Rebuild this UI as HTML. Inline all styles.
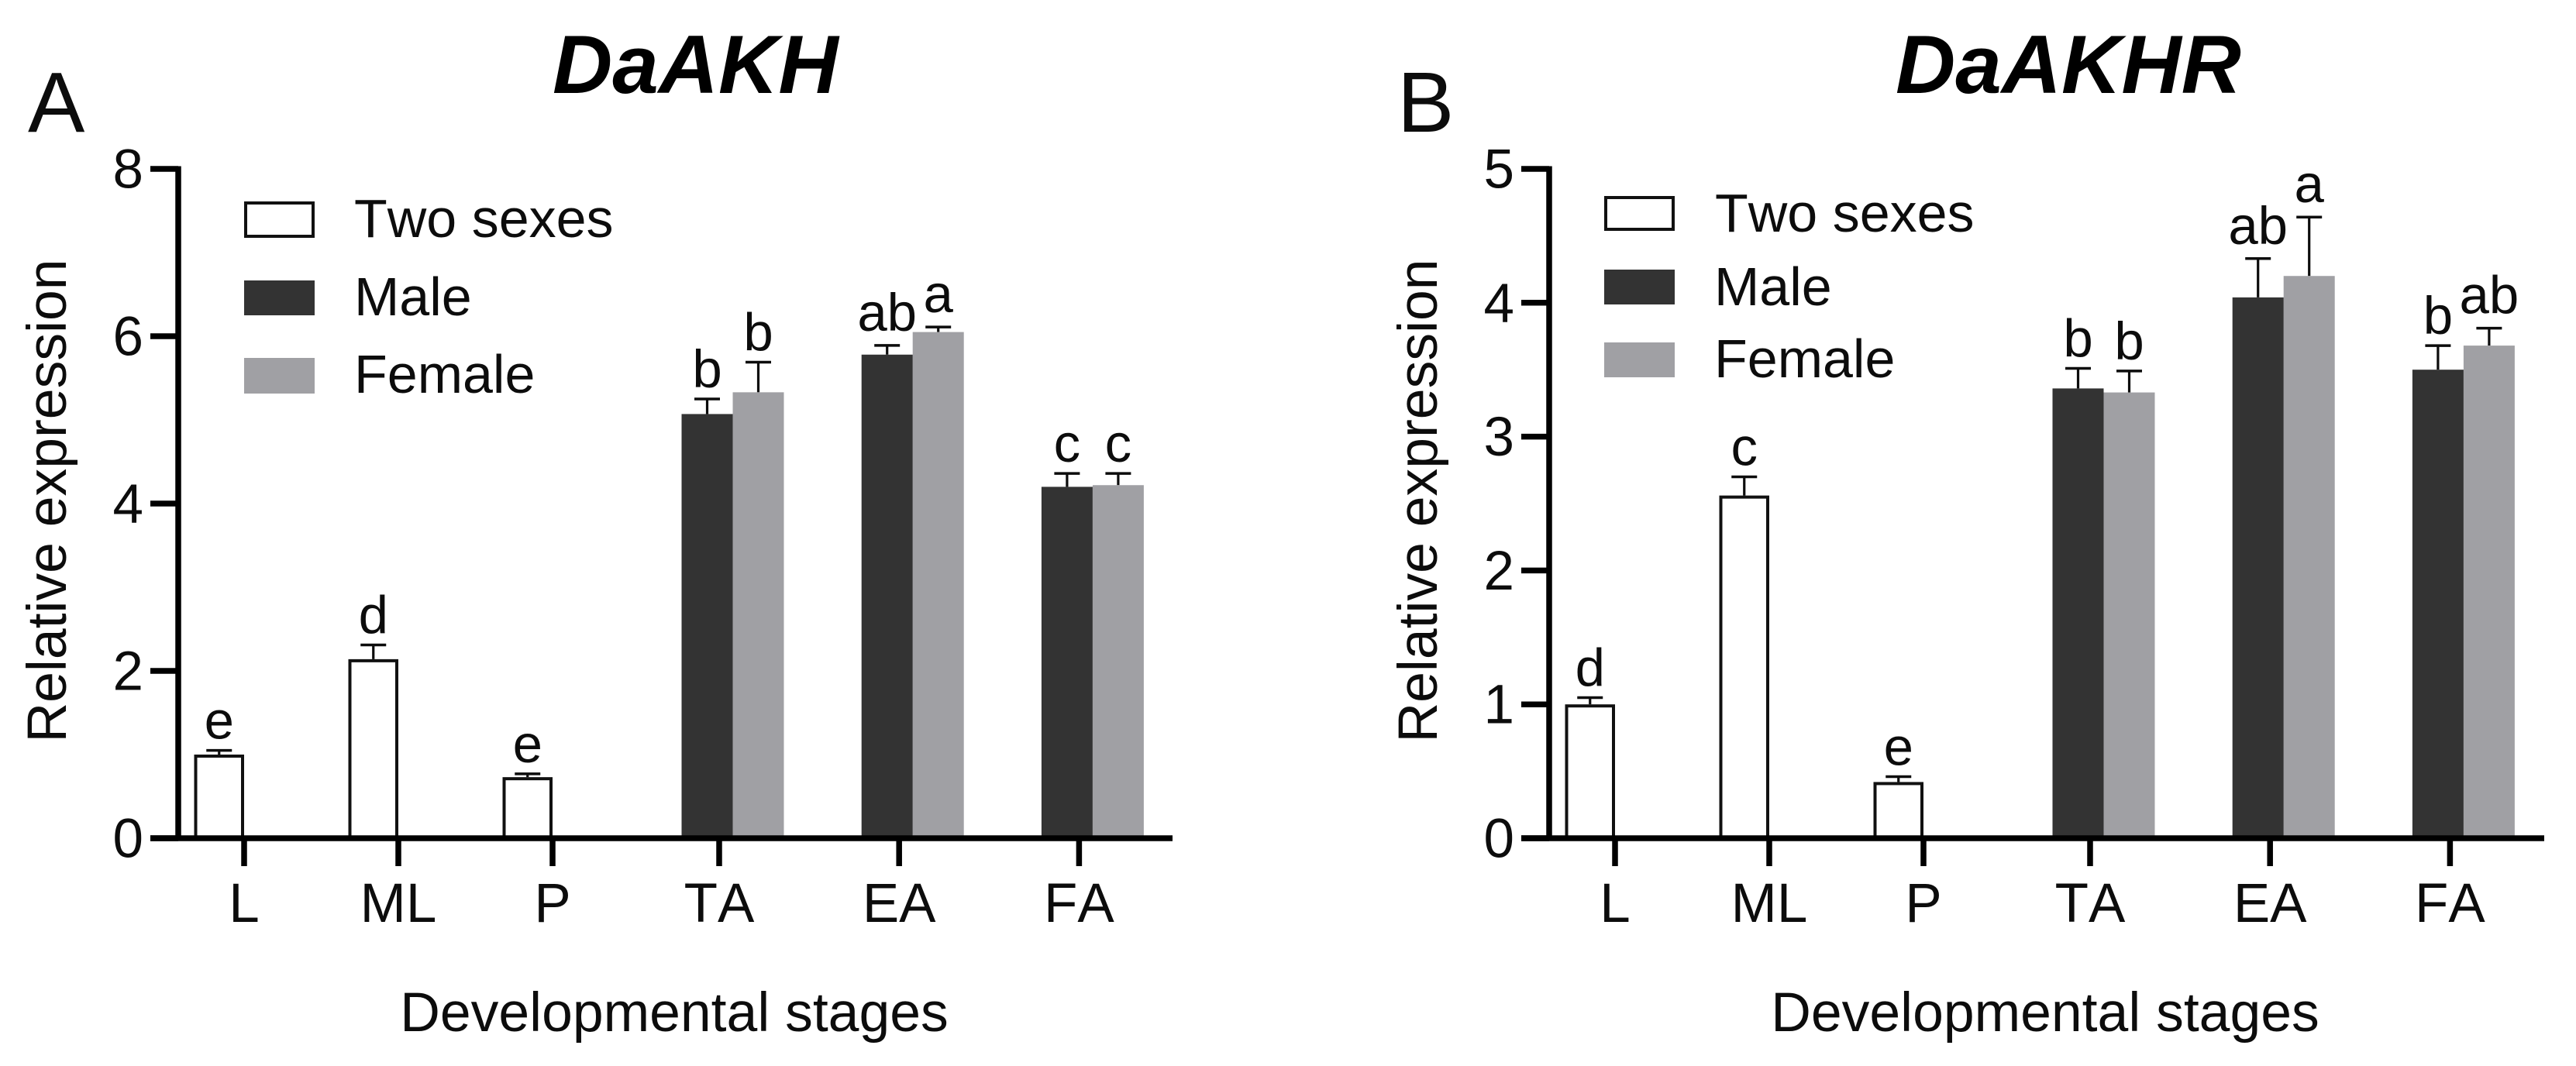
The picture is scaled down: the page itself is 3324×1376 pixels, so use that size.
<!DOCTYPE html>
<html lang="en">
<head>
<meta charset="utf-8">
<title>DaAKH and DaAKHR relative expression</title>
<style>
  html, body { margin: 0; padding: 0; background: #fff; width: 3324px; height: 1376px; overflow: hidden; }
  svg { display: block; }
  text { font-family: "Liberation Sans", Arial, sans-serif; fill: #0c0c0c; font-kerning: none; }
  .title { font-size: 107px; font-weight: bold; font-style: italic; fill: #000; font-kerning: normal; }
  .panel { font-size: 110px; }
  .axis-title { font-size: 71.5px; }
  .legend { font-size: 70px; }
  .tick { font-size: 71px; }
  .sig { font-size: 69px; }
</style>
</head>
<body>
<svg id="figure" xmlns="http://www.w3.org/2000/svg" width="3324" height="1376" viewBox="0 0 3324 1376">
  <rect x="0" y="0" width="3324" height="1376" fill="#ffffff"/>

  <g id="panel-a">
    <text class="panel" x="36" y="170">A</text>
    <text class="title" x="713" y="120">DaAKH</text>
    <text class="axis-title" transform="translate(85 646.5) rotate(-90)" text-anchor="middle">Relative expression</text>
    <text class="axis-title" x="870" y="1331" text-anchor="middle">Developmental stages</text>
    <g>
      <rect x="317" y="262" width="87" height="43" fill="#fff" stroke="#111" stroke-width="4"/>
      <text class="legend" x="457" y="306">Two sexes</text>
      <rect x="315" y="362" width="91" height="45" fill="#333333"/>
      <text class="legend" x="457" y="407">Male</text>
      <rect x="315" y="462" width="91" height="46" fill="#a0a0a4"/>
      <text class="legend" x="457" y="507">Female</text>
    </g>
  </g>

  <g id="panel-b">
    <text class="panel" x="1803" y="170">B</text>
    <text class="title" x="2446" y="120">DaAKHR</text>
    <text class="axis-title" transform="translate(1854 646.5) rotate(-90)" text-anchor="middle">Relative expression</text>
    <text class="axis-title" x="2639" y="1331" text-anchor="middle">Developmental stages</text>
    <g>
      <rect x="2072" y="255" width="87" height="41" fill="#fff" stroke="#111" stroke-width="4"/>
      <text class="legend" x="2213" y="299">Two sexes</text>
      <rect x="2070" y="348" width="91" height="45" fill="#333333"/>
      <text class="legend" x="2212" y="394">Male</text>
      <rect x="2070" y="442" width="91" height="45" fill="#a0a0a4"/>
      <text class="legend" x="2212" y="487">Female</text>
    </g>
  </g>
</svg>

<script>
// Shared categories
const categories = ['L', 'ML', 'P', 'TA', 'EA', 'FA'];

// Panel A: DaAKH
const akhTicks = [0, 2, 4, 6, 8];
const akhTwoSexes = [1.00, 2.14, 0.73, null, null, null];
const akhTwoSexesErr = [0.05, 0.17, 0.04, null, null, null];
const akhMale = [null, null, null, 5.07, 5.78, 4.20];
const akhMaleErr = [null, null, null, 0.18, 0.11, 0.16];
const akhFemale = [null, null, null, 5.33, 6.05, 4.22];
const akhFemaleErr = [null, null, null, 0.36, 0.06, 0.14];
const akhTwoSexesSig = ['e', 'd', 'e', null, null, null];
const akhMaleSig = [null, null, null, 'b', 'ab', 'c'];
const akhFemaleSig = [null, null, null, 'b', 'a', 'c'];

// Panel B: DaAKHR
const akhrTicks = [0, 1, 2, 3, 4, 5];
const akhrTwoSexes = [1.00, 2.56, 0.42, null, null, null];
const akhrTwoSexesErr = [0.05, 0.14, 0.04, null, null, null];
const akhrMale = [null, null, null, 3.36, 4.04, 3.50];
const akhrMaleErr = [null, null, null, 0.15, 0.29, 0.18];
const akhrFemale = [null, null, null, 3.33, 4.20, 3.68];
const akhrFemaleErr = [null, null, null, 0.16, 0.44, 0.13];
const akhrTwoSexesSig = ['d', 'c', 'e', null, null, null];
const akhrMaleSig = [null, null, null, 'b', 'ab', 'b'];
const akhrFemaleSig = [null, null, null, 'b', 'a', 'ab'];

const NS = 'http://www.w3.org/2000/svg';
function mk(parent, tag, attrs, content) {
  const el = document.createElementNS(NS, tag);
  for (const k in attrs) el.setAttribute(k, attrs[k]);
  if (content !== undefined) el.textContent = content;
  parent.appendChild(el);
  return el;
}

function drawPanel(cfg) {
  const root = document.getElementById(cfg.id);
  const yBase = 1082, yTop = 218;
  const yMax = cfg.ticks[cfg.ticks.length - 1];
  const yScale = function (v) { return yBase - (v / yMax) * (yBase - yTop); };
  const xTick = function (i) {
    return i < 3 ? cfg.juvenileStart + 199 * i : cfg.adultStart + 232.2 * (i - 3);
  };
  const barW = 66, capW = 33;
  const dark = '#333333', grey = '#a0a0a4', ink = '#0c0c0c';

  function drawBar(i, v, err, sig, left, width, fill, seriesName) {
    if (v === null) return;
    const cat = categories[i].toLowerCase();
    const cx = left + width / 2;
    const capY = yScale(v + err);

    const errorLine = mk(root, 'line', { x1: cx, x2: cx, y1: yScale(v), y2: capY, stroke: ink, 'stroke-width': 3.2 });
    
    

    const errorCap = mk(root, 'line', { x1: cx - capW / 2, x2: cx + capW / 2, y1: capY, y2: capY, stroke: ink, 'stroke-width': 3.5 });
    
    

    const hollow = fill === '#ffffff';
    const inset = hollow ? 2 : 0;
    const bar = mk(root, 'rect', {
      x: left + inset,
      y: yScale(v) + inset,
      width: width - inset * 2,
      height: yBase - yScale(v) - inset,
      fill: fill,
      stroke: hollow ? '#111' : 'none',
      'stroke-width': hollow ? 4 : 0
    });
    
    

    // Letters containing "a" sit a little higher above their caps in the figure.
    const lift = sig.indexOf('a') >= 0 ? 19 : 15;
    const label = mk(root, 'text', { x: cx, y: capY - lift, 'text-anchor': 'middle', 'class': 'sig' }, sig);
    
    
  }

  categories.forEach(function (c, i) {
    const tx = xTick(i);
    drawBar(i, cfg.twoSexes[i], cfg.twoSexesErr[i], cfg.twoSexesSig[i], tx - 64.5, 64.5, '#ffffff', 'two-sexes');
    drawBar(i, cfg.female[i], cfg.femaleErr[i], cfg.femaleSig[i], tx - 48.5 + barW, barW, grey, 'female');
    drawBar(i, cfg.male[i], cfg.maleErr[i], cfg.maleSig[i], tx - 48.5, barW, dark, 'male');
  });

  const yAxis = mk(root, 'line', { x1: cfg.axisX, x2: cfg.axisX, y1: yTop - 3.5, y2: yBase + 3.5, stroke: '#000', 'stroke-width': 7.5 });
  
  

  const xAxis = mk(root, 'line', { x1: cfg.axisX - 36, x2: cfg.axisRight, y1: yBase, y2: yBase, stroke: '#000', 'stroke-width': 7.5 });
  
  

  cfg.ticks.forEach(function (t) {
    const y = yScale(t);
    const mark = mk(root, 'line', { x1: cfg.axisX - 36, x2: cfg.axisX, y1: y, y2: y, stroke: '#000', 'stroke-width': 7.5 });
    
    

    const label = mk(root, 'text', { x: cfg.axisX - 45, y: y + 24.5, 'text-anchor': 'end', 'class': 'tick' }, String(t));
    
    
  });

  categories.forEach(function (c, i) {
    const tx = xTick(i);
    const mark = mk(root, 'line', { x1: tx, x2: tx, y1: yBase, y2: 1118, stroke: '#000', 'stroke-width': 7.5 });
    
    

    const label = mk(root, 'text', { x: tx, y: 1190, 'text-anchor': 'middle', 'class': 'tick' }, c);
    
    
  });
}

drawPanel({
  id: 'panel-a', axisX: 230, axisRight: 1513, juvenileStart: 315, adultStart: 928,
  ticks: akhTicks,
  twoSexes: akhTwoSexes, twoSexesErr: akhTwoSexesErr, twoSexesSig: akhTwoSexesSig,
  male: akhMale, maleErr: akhMaleErr, maleSig: akhMaleSig,
  female: akhFemale, femaleErr: akhFemaleErr, femaleSig: akhFemaleSig
});

drawPanel({
  id: 'panel-b', axisX: 1999, axisRight: 3283, juvenileStart: 2084, adultStart: 2697,
  ticks: akhrTicks,
  twoSexes: akhrTwoSexes, twoSexesErr: akhrTwoSexesErr, twoSexesSig: akhrTwoSexesSig,
  male: akhrMale, maleErr: akhrMaleErr, maleSig: akhrMaleSig,
  female: akhrFemale, femaleErr: akhrFemaleErr, femaleSig: akhrFemaleSig
});
</script>
</body>
</html>
